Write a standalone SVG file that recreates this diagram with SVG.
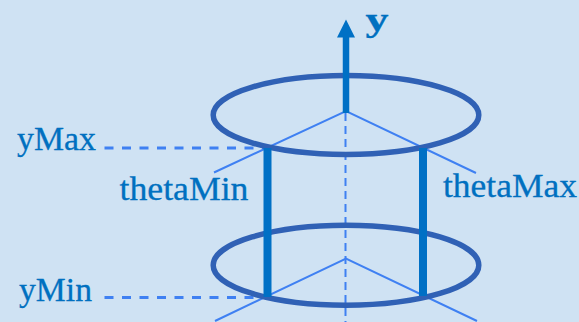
<svg xmlns="http://www.w3.org/2000/svg" width="579" height="322" viewBox="0 0 579 322">
<style>
.ring{fill:none;stroke:#3061b5;stroke-width:5.500}
.thin{fill:none;stroke:#3f80f2;stroke-width:2}
.dash{fill:none;stroke:#3f80f2;stroke-width:3;stroke-dasharray:9 8.500}
.vdash{fill:none;stroke:#3f80f2;stroke-width:2;stroke-dasharray:8 5}
.pillar{fill:none;stroke:#0070c5;stroke-width:8}
.label{font-family:"Liberation Serif","Times New Roman",serif;font-size:34px;fill:#0070c0;stroke:#0070c0;stroke-width:.3}
</style>
<rect width="579" height="322" fill="#cfe2f3"/>
<g id="connectors">
<path class="vdash" d="M345.500 113V322"/>
<path class="thin" d="M214 172.500L346 111L476 173"/>
<path class="thin" d="M215 321L346 258.500L477 321"/>
<path class="dash" d="M104.500 148H266"/>
<path class="dash" d="M104.500 297.500H266"/>
</g>
<g id="ring-top"><ellipse class="ring" cx="346" cy="115" rx="132.800" ry="39.500"/></g>
<g id="ring-bottom"><ellipse class="ring" cx="346" cy="265.200" rx="132.800" ry="40"/></g>
<g id="pillars">
<path class="pillar" d="M267.500 148V297"/>
<path class="pillar" d="M423 148V296"/>
</g>
<g id="axis-y">
<path d="M346 37V113" fill="none" stroke="#0070c5" stroke-width="6.500"/>
<path d="M346 19.500L355 37.500H337Z" fill="#0070c5"/>
<text class="label" x="365.500" y="31" textLength="23" lengthAdjust="spacingAndGlyphs" style="font-weight:bold">y</text>
</g>
<g id="label-ymax"><text class="label" x="17" y="150" textLength="79" lengthAdjust="spacingAndGlyphs">yMax</text></g>
<g id="label-ymin"><text class="label" x="19" y="301" textLength="73" lengthAdjust="spacingAndGlyphs">yMin</text></g>
<g id="label-thetamin"><text class="label" x="119.500" y="200" textLength="129" lengthAdjust="spacingAndGlyphs">thetaMin</text></g>
<g id="label-thetamax"><text class="label" x="443" y="197" textLength="134" lengthAdjust="spacingAndGlyphs">thetaMax</text></g>
</svg>
